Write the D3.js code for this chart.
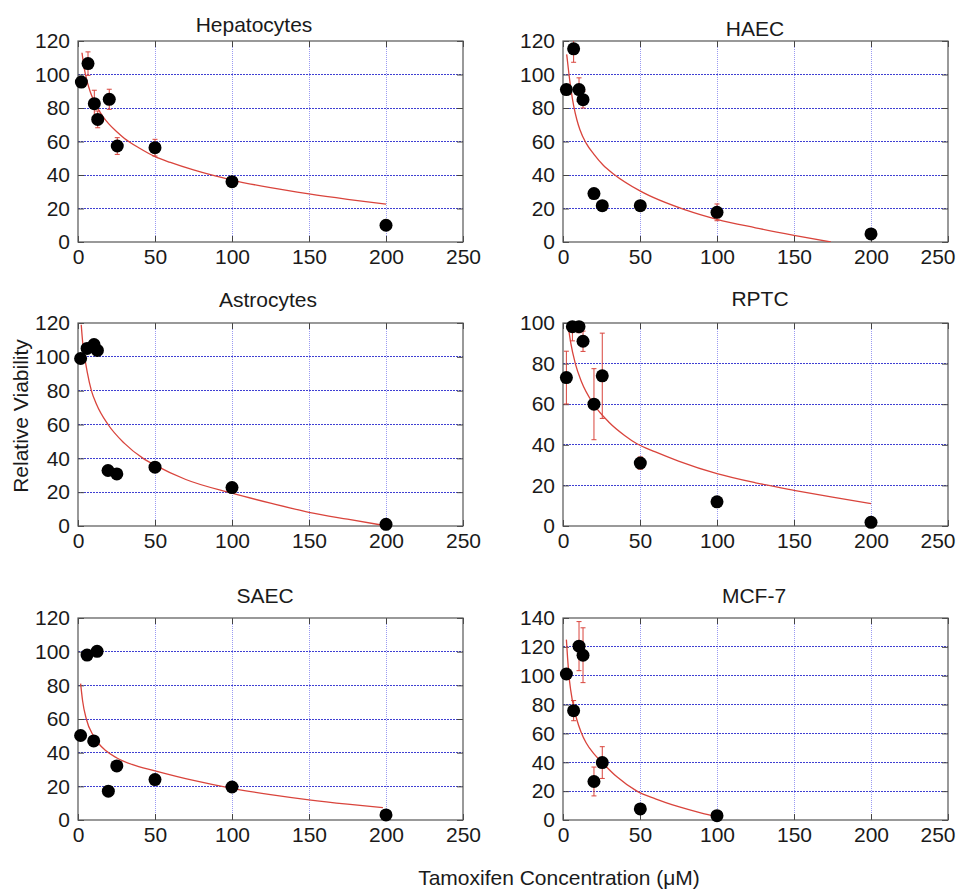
<!DOCTYPE html>
<html>
<head>
<meta charset="utf-8">
<script src="https://cdn.jsdelivr.net/npm/d3@7"></script>
<style>
body{margin:0;background:#fff}
svg{display:block;font-family:"Liberation Sans",Arial,Helvetica,sans-serif}
</style>
</head>
<body>
<div id="chart"></div>
<script>
// titulos y escalas
const titles = ["Hepatocytes", "HAEC", "Astrocytes", "RPTC", "SAEC", "MCF-7"]
const yMaxes = [120, 120, 120, 100, 120, 140]
const xTicks = [0, 50, 100, 150, 200, 250]

// datos (concentracion, viabilidad, error)
const hepX = [2.2, 6.5, 10.6, 12.8, 20.3, 25.5, 50, 100, 200]
const hepY = [95.5, 106.5, 82.6, 73.2, 85.2, 57.3, 56.3, 36, 10]
const hepErr = [0, 7, 8, 5, 6, 5, 5, 0, 0]
const hepFitX = [2.6, 4, 6, 8, 10, 13, 16, 20, 25, 30, 40, 50, 60, 75, 100, 125, 150, 175, 200]
const hepFitY = [113, 104, 95.6, 89.6, 85, 79.5, 75.2, 70.5, 66, 62, 56, 51, 47.5, 43, 37, 32.4, 28.7, 25.5, 22.6]

const haecX = [2.2, 6.9, 10.4, 13, 20.1, 25.5, 50.2, 100, 200]
const haecY = [91, 115.3, 91, 85, 28.9, 21.7, 21.7, 17.7, 4.8]
const haecErr = [0, 8, 7, 5, 0, 0, 0, 5, 0]
const haecFitX = [2.4, 3.9, 5.5, 7, 9, 11, 15, 20, 26, 33, 50, 80, 100, 125, 150, 174]
const haecFitY = [112, 100, 89, 81, 73, 67, 59, 52.5, 46, 40.5, 30.5, 19, 13.5, 8.5, 4, 0]

const astroX = [1.7, 5.9, 10.4, 12.6, 19.5, 25.2, 50, 100, 200]
const astroY = [99, 105, 107.3, 103.8, 32.8, 30.8, 34.8, 22.7, 1]
const astroErr = [0, 0, 0, 0, 0, 0, 0, 0, 0]
const astroFitX = [2.1, 3, 4.3, 6, 8.7, 12, 19.5, 30, 42.3, 50, 70, 100, 125, 150, 175, 197]
const astroFitY = [119, 109, 100, 91, 80, 72, 60, 49, 40, 36, 27.5, 19.4, 13.5, 8.1, 4, 0.6]

const rptcX = [2.2, 6.1, 10.4, 13, 20.1, 25.5, 50.2, 100, 200]
const rptcY = [73.1, 98.2, 98.2, 91, 60, 74, 31, 11.9, 1.8]
const rptcErr = [13, 7, 3, 5, 17.5, 21, 3, 0, 0]
const rptcFitX = [3.3, 5, 8, 12, 19.9, 30, 40, 48, 60, 75, 100, 125, 150, 175, 200]
const rptcFitY = [99, 90.3, 80, 71.1, 60, 51, 44.6, 40.5, 36.5, 32, 25.8, 21.3, 17.6, 14.2, 11]

const saecX = [1.7, 5.9, 10.2, 12.4, 19.7, 25.2, 50, 100, 200]
const saecY = [50.2, 98, 47, 100.2, 17.1, 32.1, 24, 19.6, 3]
const saecErr = [0, 0, 0, 0, 0, 0, 0, 0, 0]
const saecFitX = [1.7, 3, 5.4, 10, 18.4, 25, 35, 50, 75, 100, 125, 150, 175, 198]
const saecFitY = [81, 70.7, 60, 50, 41, 37, 33, 29.2, 23.5, 18.8, 15.1, 12, 9.4, 7.3]

const mcfX = [2.2, 6.9, 10.4, 13, 20.1, 25.5, 50.2, 100]
const mcfY = [101.2, 75.8, 120.5, 114.2, 26.7, 39.8, 7.7, 3]
const mcfErr = [0, 7, 17, 19, 10, 11, 0, 0]
const mcfFitX = [2.2, 3, 3.7, 5, 7.4, 9, 11.7, 15, 20, 25.3, 35, 48, 60, 75, 90, 100]
const mcfFitY = [125, 112, 102, 90, 76, 69.5, 61, 53.5, 46, 40, 29.9, 20, 14.6, 9.2, 4.8, 2.3]

const panels = [
    {x: hepX, y: hepY, err: hepErr, fx: hepFitX, fy: hepFitY},
    {x: haecX, y: haecY, err: haecErr, fx: haecFitX, fy: haecFitY},
    {x: astroX, y: astroY, err: astroErr, fx: astroFitX, fy: astroFitY},
    {x: rptcX, y: rptcY, err: rptcErr, fx: rptcFitX, fy: rptcFitY},
    {x: saecX, y: saecY, err: saecErr, fx: saecFitX, fy: saecFitY},
    {x: mcfX, y: mcfY, err: mcfErr, fx: mcfFitX, fy: mcfFitY}
]

// posiciones de cada panel
const ancho = 959
const alto = 890
const plotW = 385
const layout = [
    {left: 78, top: 41, bottom: 242, titleX: 254, titleY: 31.5},
    {left: 563, top: 41, bottom: 242, titleX: 755, titleY: 35.5},
    {left: 78, top: 323, bottom: 526, titleX: 268, titleY: 306.5},
    {left: 563, top: 323, bottom: 526, titleX: 760, titleY: 306},
    {left: 78, top: 618, bottom: 820, titleX: 265, titleY: 603},
    {left: 563, top: 618, bottom: 820, titleX: 754, titleY: 603}
]

const svg = d3.select("#chart").append("svg").attr("width", ancho).attr("height", alto)
svg.append("rect").attr("width", ancho).attr("height", alto).attr("fill", "#fff")

panels.forEach((p, i) => {
    const L = layout[i]
    const h = L.bottom - L.top
    const x = d3.scaleLinear().domain([0, 250]).range([0, plotW])
    const y = d3.scaleLinear().domain([0, yMaxes[i]]).range([h, 0])
    const yTicks = d3.range(0, yMaxes[i] + 1, 20)

    const g = svg.append("g").attr("transform", `translate(${L.left},${L.top})`)
    g.append("clipPath").attr("id", "clip" + i)
        .append("rect").attr("width", plotW).attr("height", h)

    // rejilla punteada
    g.append("g").attr("shape-rendering", "crispEdges")
        .selectAll("line").data(xTicks.slice(1, -1)).join("line")
        .attr("x1", d => x(d)).attr("x2", d => x(d)).attr("y1", 0).attr("y2", h)
        .attr("stroke", "#9a9af2").attr("stroke-dasharray", "1,1")
    g.append("g").attr("shape-rendering", "crispEdges")
        .selectAll("line").data(yTicks.slice(1, -1)).join("line")
        .attr("x1", 0).attr("x2", plotW).attr("y1", d => y(d)).attr("y2", d => y(d))
        .attr("stroke", "#3f3fd2").attr("stroke-dasharray", "2,1")

    // ejes con marcas hacia dentro
    const ejeX = g.append("g").attr("transform", `translate(0,${h})`)
        .call(d3.axisBottom(x).tickValues(xTicks).tickSize(-6).tickPadding(7))
    g.append("g")
        .call(d3.axisLeft(y).tickValues(yTicks).tickSize(-6).tickPadding(8))
    g.append("g").attr("transform", `translate(${plotW},0)`)
        .call(d3.axisRight(y).tickValues(yTicks).tickSize(-6).tickFormat(""))
    g.append("g")
        .call(d3.axisTop(x).tickValues(xTicks).tickSize(-6).tickFormat(""))
    g.selectAll(".domain").remove()
    g.selectAll(".tick line").attr("stroke", "#444")
    g.selectAll(".tick text").attr("font-size", 21).attr("fill", "#1a1a1a")
        .attr("font-family", "'Liberation Sans',Arial,Helvetica,sans-serif")

    // que el 250 no se salga del lienzo
    ejeX.selectAll(".tick text").each(function(d) {
        const w = this.getComputedTextLength()
        if (L.left + x(d) + w / 2 > ancho - 4) {
            d3.select(this).attr("text-anchor", "end").attr("x", ancho - 4 - L.left - x(d))
        }
    })

    // marco
    g.append("rect").attr("width", plotW).attr("height", h)
        .attr("fill", "none").attr("stroke", "#555").attr("stroke-width", 1.2)

    // curva de ajuste
    const fit = p.fx.map((v, k) => [v, p.fy[k]])
    g.append("path").datum(fit)
        .attr("clip-path", `url(#clip${i})`)
        .attr("fill", "none").attr("stroke", "#d9443c").attr("stroke-width", 1.3)
        .attr("d", d3.line().x(d => x(d[0])).y(d => y(d[1])).curve(d3.curveMonotoneX))

    // barras de error
    const datos = p.x.map((v, k) => ({c: v, v: p.y[k], e: p.err[k]}))
    g.append("g").attr("clip-path", `url(#clip${i})`)
        .selectAll("path").data(datos.filter(d => d.e > 0)).join("path")
        .attr("fill", "none").attr("stroke", "#d9443c").attr("stroke-width", 1)
        .attr("d", d => {
            const cx = x(d.c), y1 = y(d.v + d.e), y2 = y(d.v - d.e)
            return `M${cx},${y1}V${y2}M${cx - 2.5},${y1}H${cx + 2.5}M${cx - 2.5},${y2}H${cx + 2.5}`
        })

    // puntos
    g.append("g").selectAll("circle").data(datos).join("circle")
        .attr("cx", d => x(d.c)).attr("cy", d => y(d.v)).attr("r", 6.5)
        .attr("fill", "#000")

    // titulo
    svg.append("text").attr("x", L.titleX).attr("y", L.titleY)
        .attr("text-anchor", "middle").attr("font-size", 21).attr("fill", "#1a1a1a")
        .text(titles[i])
})

// etiquetas de ejes
svg.append("text").attr("transform", "translate(28,416) rotate(-90)")
    .attr("text-anchor", "middle").attr("font-size", 21).attr("fill", "#1a1a1a")
    .text("Relative Viability")
svg.append("text").attr("x", 559).attr("y", 885)
    .attr("text-anchor", "middle").attr("font-size", 21).attr("fill", "#1a1a1a")
    .text("Tamoxifen Concentration (μM)")
</script>
</body>
</html>
